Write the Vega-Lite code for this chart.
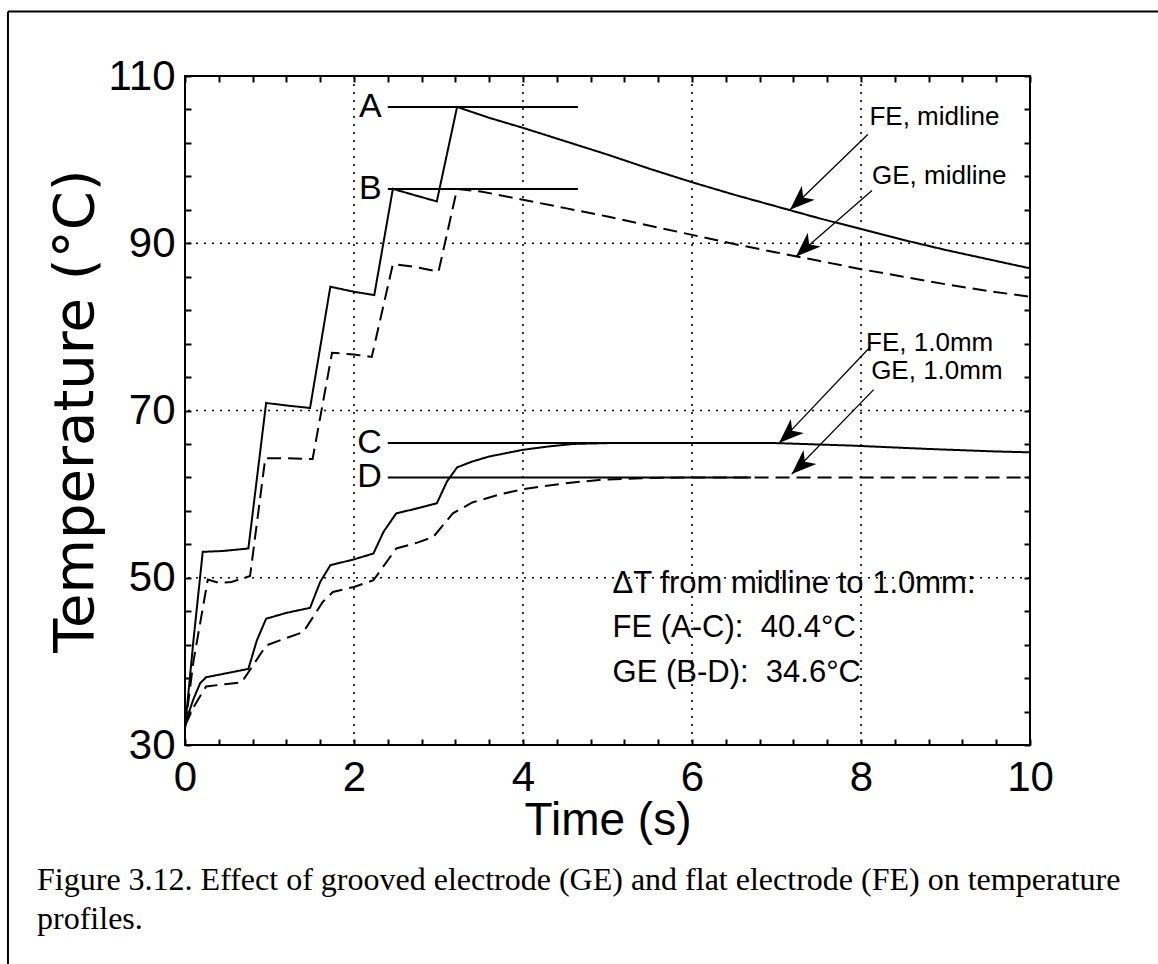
{
  "$schema": "https://vega.github.io/schema/vega-lite/v6.json",
  "width": 845,
  "height": 669,
  "autosize": {"type": "none"},
  "padding": {"left": 185, "top": 76, "right": 128, "bottom": 219},
  "background": "white",
  "config": {
    "view": {"stroke": "black", "strokeWidth": 2},
    "axis": {
      "labelFont": "Liberation Sans", "labelFontSize": 42, "labelColor": "black",
      "titleFont": "Liberation Sans", "titleFontSize": 46, "titleFontWeight": "normal", "titleColor": "black",
      "tickColor": "black", "tickWidth": 2, "tickSize": -6, "domain": false, "grid": false
    }
  },
  "datasets": {
    "gridx": [{"t": 2}, {"t": 4}, {"t": 6}, {"t": 8}],
    "gridy": [{"T": 50}, {"T": 70}, {"T": 90}],
    "curves": [
      {"series": "FE, midline", "electrode": "FE", "t": 0, "T": 32.0},
      {"series": "FE, midline", "electrode": "FE", "t": 0.1, "T": 42.5},
      {"series": "FE, midline", "electrode": "FE", "t": 0.21, "T": 53.1},
      {"series": "FE, midline", "electrode": "FE", "t": 0.45, "T": 53.2},
      {"series": "FE, midline", "electrode": "FE", "t": 0.75, "T": 53.5},
      {"series": "FE, midline", "electrode": "FE", "t": 0.96, "T": 70.9},
      {"series": "FE, midline", "electrode": "FE", "t": 1.2, "T": 70.6},
      {"series": "FE, midline", "electrode": "FE", "t": 1.48, "T": 70.3},
      {"series": "FE, midline", "electrode": "FE", "t": 1.72, "T": 84.8},
      {"series": "FE, midline", "electrode": "FE", "t": 2.0, "T": 84.2},
      {"series": "FE, midline", "electrode": "FE", "t": 2.24, "T": 83.8},
      {"series": "FE, midline", "electrode": "FE", "t": 2.46, "T": 96.5},
      {"series": "FE, midline", "electrode": "FE", "t": 2.7, "T": 95.8},
      {"series": "FE, midline", "electrode": "FE", "t": 2.98, "T": 95.0},
      {"series": "FE, midline", "electrode": "FE", "t": 3.22, "T": 106.3},
      {"series": "FE, midline", "electrode": "FE", "t": 3.6, "T": 105.0},
      {"series": "FE, midline", "electrode": "FE", "t": 4.0, "T": 103.8},
      {"series": "FE, midline", "electrode": "FE", "t": 4.5, "T": 102.2},
      {"series": "FE, midline", "electrode": "FE", "t": 5.0, "T": 100.6},
      {"series": "FE, midline", "electrode": "FE", "t": 5.5, "T": 98.9},
      {"series": "FE, midline", "electrode": "FE", "t": 6.0, "T": 97.3},
      {"series": "FE, midline", "electrode": "FE", "t": 6.5, "T": 95.8},
      {"series": "FE, midline", "electrode": "FE", "t": 7.0, "T": 94.4},
      {"series": "FE, midline", "electrode": "FE", "t": 7.5, "T": 93.0},
      {"series": "FE, midline", "electrode": "FE", "t": 8.0, "T": 91.7},
      {"series": "FE, midline", "electrode": "FE", "t": 8.5, "T": 90.4},
      {"series": "FE, midline", "electrode": "FE", "t": 9.0, "T": 89.2},
      {"series": "FE, midline", "electrode": "FE", "t": 9.5, "T": 88.1},
      {"series": "FE, midline", "electrode": "FE", "t": 10.0, "T": 87.0},
      {"series": "GE, midline", "electrode": "GE", "t": 0, "T": 32.0},
      {"series": "GE, midline", "electrode": "GE", "t": 0.1, "T": 40.0},
      {"series": "GE, midline", "electrode": "GE", "t": 0.27, "T": 49.8},
      {"series": "GE, midline", "electrode": "GE", "t": 0.4, "T": 49.4},
      {"series": "GE, midline", "electrode": "GE", "t": 0.55, "T": 49.5},
      {"series": "GE, midline", "electrode": "GE", "t": 0.77, "T": 50.2},
      {"series": "GE, midline", "electrode": "GE", "t": 0.95, "T": 64.3},
      {"series": "GE, midline", "electrode": "GE", "t": 1.2, "T": 64.3},
      {"series": "GE, midline", "electrode": "GE", "t": 1.51, "T": 64.2},
      {"series": "GE, midline", "electrode": "GE", "t": 1.74, "T": 76.9},
      {"series": "GE, midline", "electrode": "GE", "t": 2.0, "T": 76.7},
      {"series": "GE, midline", "electrode": "GE", "t": 2.21, "T": 76.4},
      {"series": "GE, midline", "electrode": "GE", "t": 2.46, "T": 87.5},
      {"series": "GE, midline", "electrode": "GE", "t": 2.7, "T": 87.2},
      {"series": "GE, midline", "electrode": "GE", "t": 3.0, "T": 86.6},
      {"series": "GE, midline", "electrode": "GE", "t": 3.22, "T": 96.5},
      {"series": "GE, midline", "electrode": "GE", "t": 3.5, "T": 96.2},
      {"series": "GE, midline", "electrode": "GE", "t": 4.0, "T": 95.2},
      {"series": "GE, midline", "electrode": "GE", "t": 4.5, "T": 94.2},
      {"series": "GE, midline", "electrode": "GE", "t": 5.0, "T": 93.2},
      {"series": "GE, midline", "electrode": "GE", "t": 5.5, "T": 92.1},
      {"series": "GE, midline", "electrode": "GE", "t": 6.0, "T": 91.0},
      {"series": "GE, midline", "electrode": "GE", "t": 6.5, "T": 89.9},
      {"series": "GE, midline", "electrode": "GE", "t": 7.0, "T": 88.9},
      {"series": "GE, midline", "electrode": "GE", "t": 7.5, "T": 87.9},
      {"series": "GE, midline", "electrode": "GE", "t": 8.0, "T": 86.9},
      {"series": "GE, midline", "electrode": "GE", "t": 8.5, "T": 86.0},
      {"series": "GE, midline", "electrode": "GE", "t": 9.0, "T": 85.1},
      {"series": "GE, midline", "electrode": "GE", "t": 9.5, "T": 84.3},
      {"series": "GE, midline", "electrode": "GE", "t": 10.0, "T": 83.6},
      {"series": "FE, 1.0mm", "electrode": "FE", "t": 0, "T": 32.5},
      {"series": "FE, 1.0mm", "electrode": "FE", "t": 0.1, "T": 35.5},
      {"series": "FE, 1.0mm", "electrode": "FE", "t": 0.18, "T": 37.4},
      {"series": "FE, 1.0mm", "electrode": "FE", "t": 0.25, "T": 38.1},
      {"series": "FE, 1.0mm", "electrode": "FE", "t": 0.5, "T": 38.6},
      {"series": "FE, 1.0mm", "electrode": "FE", "t": 0.75, "T": 39.1},
      {"series": "FE, 1.0mm", "electrode": "FE", "t": 0.85, "T": 42.5},
      {"series": "FE, 1.0mm", "electrode": "FE", "t": 0.96, "T": 45.1},
      {"series": "FE, 1.0mm", "electrode": "FE", "t": 1.2, "T": 45.8},
      {"series": "FE, 1.0mm", "electrode": "FE", "t": 1.48, "T": 46.4},
      {"series": "FE, 1.0mm", "electrode": "FE", "t": 1.6, "T": 49.5},
      {"series": "FE, 1.0mm", "electrode": "FE", "t": 1.72, "T": 51.5},
      {"series": "FE, 1.0mm", "electrode": "FE", "t": 2.0, "T": 52.2},
      {"series": "FE, 1.0mm", "electrode": "FE", "t": 2.23, "T": 52.9},
      {"series": "FE, 1.0mm", "electrode": "FE", "t": 2.35, "T": 55.5},
      {"series": "FE, 1.0mm", "electrode": "FE", "t": 2.5, "T": 57.7},
      {"series": "FE, 1.0mm", "electrode": "FE", "t": 2.75, "T": 58.3},
      {"series": "FE, 1.0mm", "electrode": "FE", "t": 2.98, "T": 58.9},
      {"series": "FE, 1.0mm", "electrode": "FE", "t": 3.1, "T": 61.5},
      {"series": "FE, 1.0mm", "electrode": "FE", "t": 3.22, "T": 63.2},
      {"series": "FE, 1.0mm", "electrode": "FE", "t": 3.4, "T": 63.9},
      {"series": "FE, 1.0mm", "electrode": "FE", "t": 3.6, "T": 64.5},
      {"series": "FE, 1.0mm", "electrode": "FE", "t": 4.0, "T": 65.3},
      {"series": "FE, 1.0mm", "electrode": "FE", "t": 4.3, "T": 65.7},
      {"series": "FE, 1.0mm", "electrode": "FE", "t": 4.6, "T": 66.0},
      {"series": "FE, 1.0mm", "electrode": "FE", "t": 5.0, "T": 66.1},
      {"series": "FE, 1.0mm", "electrode": "FE", "t": 7.0, "T": 66.1},
      {"series": "FE, 1.0mm", "electrode": "FE", "t": 7.9, "T": 65.8},
      {"series": "FE, 1.0mm", "electrode": "FE", "t": 8.8, "T": 65.4},
      {"series": "FE, 1.0mm", "electrode": "FE", "t": 9.6, "T": 65.1},
      {"series": "FE, 1.0mm", "electrode": "FE", "t": 10.0, "T": 65.0},
      {"series": "GE, 1.0mm", "electrode": "GE", "t": 0, "T": 32.3},
      {"series": "GE, 1.0mm", "electrode": "GE", "t": 0.1, "T": 34.5},
      {"series": "GE, 1.0mm", "electrode": "GE", "t": 0.2, "T": 36.2},
      {"series": "GE, 1.0mm", "electrode": "GE", "t": 0.25, "T": 37.0},
      {"series": "GE, 1.0mm", "electrode": "GE", "t": 0.5, "T": 37.3},
      {"series": "GE, 1.0mm", "electrode": "GE", "t": 0.67, "T": 37.5},
      {"series": "GE, 1.0mm", "electrode": "GE", "t": 0.79, "T": 39.3},
      {"series": "GE, 1.0mm", "electrode": "GE", "t": 0.96, "T": 41.9},
      {"series": "GE, 1.0mm", "electrode": "GE", "t": 1.2, "T": 42.8},
      {"series": "GE, 1.0mm", "electrode": "GE", "t": 1.4, "T": 43.5},
      {"series": "GE, 1.0mm", "electrode": "GE", "t": 1.63, "T": 47.1},
      {"series": "GE, 1.0mm", "electrode": "GE", "t": 1.75, "T": 48.3},
      {"series": "GE, 1.0mm", "electrode": "GE", "t": 2.0, "T": 48.9},
      {"series": "GE, 1.0mm", "electrode": "GE", "t": 2.23, "T": 49.7},
      {"series": "GE, 1.0mm", "electrode": "GE", "t": 2.5, "T": 53.5},
      {"series": "GE, 1.0mm", "electrode": "GE", "t": 2.75, "T": 54.2},
      {"series": "GE, 1.0mm", "electrode": "GE", "t": 2.94, "T": 54.9},
      {"series": "GE, 1.0mm", "electrode": "GE", "t": 3.17, "T": 57.7},
      {"series": "GE, 1.0mm", "electrode": "GE", "t": 3.4, "T": 59.0},
      {"series": "GE, 1.0mm", "electrode": "GE", "t": 3.7, "T": 59.9},
      {"series": "GE, 1.0mm", "electrode": "GE", "t": 4.0, "T": 60.6},
      {"series": "GE, 1.0mm", "electrode": "GE", "t": 4.5, "T": 61.3},
      {"series": "GE, 1.0mm", "electrode": "GE", "t": 4.9, "T": 61.7},
      {"series": "GE, 1.0mm", "electrode": "GE", "t": 5.4, "T": 61.9},
      {"series": "GE, 1.0mm", "electrode": "GE", "t": 6.0, "T": 62.0},
      {"series": "GE, 1.0mm", "electrode": "GE", "t": 10.0, "T": 62.0}
    ],
    "refs": [
      {"label": "A", "t0": 2.4, "t1": 4.65, "T": 106.3},
      {"label": "B", "t0": 2.4, "t1": 4.65, "T": 96.5},
      {"label": "C", "t0": 2.4, "t1": 6.7, "T": 66.1},
      {"label": "D", "t0": 2.4, "t1": 6.7, "T": 62.0}
    ],
    "arrows": [
      {"id": "FE, midline", "tx": 8.08, "Ty": 103.0, "hx": 7.16, "Hy": 94.0},
      {"id": "GE, midline", "tx": 8.13, "Ty": 96.3, "hx": 7.23, "Hy": 88.4},
      {"id": "FE, 1.0mm", "tx": 8.1, "Ty": 77.5, "hx": 7.03, "Hy": 66.1},
      {"id": "GE, 1.0mm", "tx": 8.15, "Ty": 72.5, "hx": 7.18, "Hy": 62.4}
    ],
    "arrowLabels": [
      {"text": "FE, midline", "t": 8.1, "T": 105.1},
      {"text": "GE, midline", "t": 8.13, "T": 98.1},
      {"text": "FE, 1.0mm", "t": 8.06, "T": 78.1},
      {"text": "GE, 1.0mm", "t": 8.12, "T": 74.7}
    ],
    "notes": [
      {"text": "ΔT from midline to 1.0mm:", "t": 5.06, "T": 49.3},
      {"text": "FE (A-C): \u00a040.4°C", "t": 5.06, "T": 44.0},
      {"text": "GE (B-D): \u00a034.6°C", "t": 5.06, "T": 38.6}
    ],
    "caption": [
      {"text": "Figure 3.12. Effect of grooved electrode (GE) and flat electrode (FE) on temperature", "t": -1.751, "T": 12.7},
      {"text": "profiles.", "t": -1.751, "T": 8.0}
    ],
    "frame": [
      {"x0": -2.095, "x1": -2.095, "y0": 117.7, "y1": 3.0},
      {"x0": -2.095, "x1": 11.6, "y0": 117.7, "y1": 117.7}
    ]
  },
  "layer": [
    {
      "data": {"name": "gridx"},
      "mark": {"type": "rule", "color": "black", "strokeWidth": 1.6, "strokeDash": [2, 6]},
      "encoding": {
        "x": {"field": "t", "type": "quantitative", "scale": {"domain": [0, 10], "nice": false}, "axis": null}
      }
    },
    {
      "data": {"name": "gridy"},
      "mark": {"type": "rule", "color": "black", "strokeWidth": 1.6, "strokeDash": [2, 6]},
      "encoding": {
        "y": {"field": "T", "type": "quantitative", "scale": {"domain": [30, 110], "nice": false}, "axis": null}
      }
    },
    {
      "data": {"name": "curves"},
      "mark": {"type": "line", "color": "black", "strokeWidth": 2},
      "encoding": {
        "x": {"field": "t", "type": "quantitative", "scale": {"domain": [0, 10], "nice": false},
          "axis": {"orient": "bottom", "title": "Time (s)", "values": [0, 0.4, 0.8, 1.2, 1.6, 2, 2.4, 2.8, 3.2, 3.6, 4, 4.4, 4.8, 5.2, 5.6, 6, 6.4, 6.8, 7.2, 7.6, 8, 8.4, 8.8, 9.2, 9.6, 10],
            "labelExpr": "datum.value % 2 === 0 ? format(datum.value, 'd') : ''", "labelPadding": 18, "titlePadding": 0, "labelFlush": false, "labelOverlap": false}},
        "y": {"field": "T", "type": "quantitative", "scale": {"domain": [30, 110], "nice": false},
          "axis": {"orient": "left", "title": "Temperature (°C)", "titleFont": "DejaVu Sans", "titleFontSize": 56, "values": [30, 34, 38, 42, 46, 50, 54, 58, 62, 66, 70, 74, 78, 82, 86, 90, 94, 98, 102, 106, 110],
            "labelExpr": "(datum.value - 30) % 20 === 0 ? format(datum.value, 'd') : ''", "labelPadding": 16, "titlePadding": 4, "labelFlush": false, "labelOverlap": false}},
        "strokeDash": {"field": "electrode", "type": "nominal", "scale": {"domain": ["FE", "GE"], "range": [[1, 0], [14, 7]]}, "legend": null},
        "detail": {"field": "series"}
      }
    },
    {
      "data": {"name": "refs"},
      "mark": {"type": "rule", "color": "black", "strokeWidth": 2},
      "encoding": {
        "x": {"field": "t0", "type": "quantitative", "scale": {"domain": [0, 10], "nice": false},
          "axis": {"orient": "top", "title": null, "labels": false, "values": [0, 0.4, 0.8, 1.2, 1.6, 2, 2.4, 2.8, 3.2, 3.6, 4, 4.4, 4.8, 5.2, 5.6, 6, 6.4, 6.8, 7.2, 7.6, 8, 8.4, 8.8, 9.2, 9.6, 10]}},
        "x2": {"field": "t1"},
        "y": {"field": "T", "type": "quantitative", "scale": {"domain": [30, 110], "nice": false},
          "axis": {"orient": "right", "title": null, "labels": false, "values": [30, 34, 38, 42, 46, 50, 54, 58, 62, 66, 70, 74, 78, 82, 86, 90, 94, 98, 102, 106, 110]}}
      }
    },
    {
      "data": {"name": "refs"},
      "mark": {"type": "text", "color": "black", "font": "Liberation Sans", "fontSize": 34, "align": "right", "baseline": "middle", "dx": -6},
      "encoding": {
        "x": {"field": "t0", "type": "quantitative", "scale": {"domain": [0, 10], "nice": false}, "axis": null},
        "y": {"field": "T", "type": "quantitative", "scale": {"domain": [30, 110], "nice": false}, "axis": null},
        "text": {"field": "label"}
      }
    },
    {
      "data": {"name": "arrows"},
      "mark": {"type": "rule", "color": "black", "strokeWidth": 1.3},
      "encoding": {
        "x": {"field": "tx", "type": "quantitative", "scale": {"domain": [0, 10], "nice": false}, "axis": null},
        "y": {"field": "Ty", "type": "quantitative", "scale": {"domain": [30, 110], "nice": false}, "axis": null},
        "x2": {"field": "hx"},
        "y2": {"field": "Hy"}
      }
    },
    {
      "data": {"name": "arrows"},
      "mark": {"type": "point", "filled": true, "color": "black", "opacity": 1, "shape": "M0,0L-0.38,1L0,0.72L0.38,1Z", "size": 2500, "angle": 227},
      "encoding": {
        "x": {"field": "hx", "type": "quantitative", "scale": {"domain": [0, 10], "nice": false}, "axis": null},
        "y": {"field": "Hy", "type": "quantitative", "scale": {"domain": [30, 110], "nice": false}, "axis": null}
      }
    },
    {
      "data": {"name": "arrowLabels"},
      "mark": {"type": "text", "color": "black", "font": "Liberation Sans", "fontSize": 26, "align": "left", "baseline": "middle"},
      "encoding": {
        "x": {"field": "t", "type": "quantitative", "scale": {"domain": [0, 10], "nice": false}, "axis": null},
        "y": {"field": "T", "type": "quantitative", "scale": {"domain": [30, 110], "nice": false}, "axis": null},
        "text": {"field": "text"}
      }
    },
    {
      "data": {"name": "notes"},
      "mark": {"type": "text", "color": "black", "font": "Liberation Sans", "fontSize": 31, "align": "left", "baseline": "middle"},
      "encoding": {
        "x": {"field": "t", "type": "quantitative", "scale": {"domain": [0, 10], "nice": false}, "axis": null},
        "y": {"field": "T", "type": "quantitative", "scale": {"domain": [30, 110], "nice": false}, "axis": null},
        "text": {"field": "text"}
      }
    },
    {
      "data": {"name": "caption"},
      "mark": {"type": "text", "color": "black", "font": "Liberation Serif", "fontSize": 32, "align": "left", "baseline": "alphabetic"},
      "encoding": {
        "x": {"field": "t", "type": "quantitative", "scale": {"domain": [0, 10], "nice": false}, "axis": null},
        "y": {"field": "T", "type": "quantitative", "scale": {"domain": [30, 110], "nice": false}, "axis": null},
        "text": {"field": "text"}
      }
    },
    {
      "data": {"name": "frame"},
      "mark": {"type": "rule", "color": "black", "strokeWidth": 2},
      "encoding": {
        "x": {"field": "x0", "type": "quantitative", "scale": {"domain": [0, 10], "nice": false}, "axis": null},
        "x2": {"field": "x1"},
        "y": {"field": "y0", "type": "quantitative", "scale": {"domain": [30, 110], "nice": false}, "axis": null},
        "y2": {"field": "y1"}
      }
    }
  ],
  "resolve": {"axis": {"x": "independent", "y": "independent"}}
}
